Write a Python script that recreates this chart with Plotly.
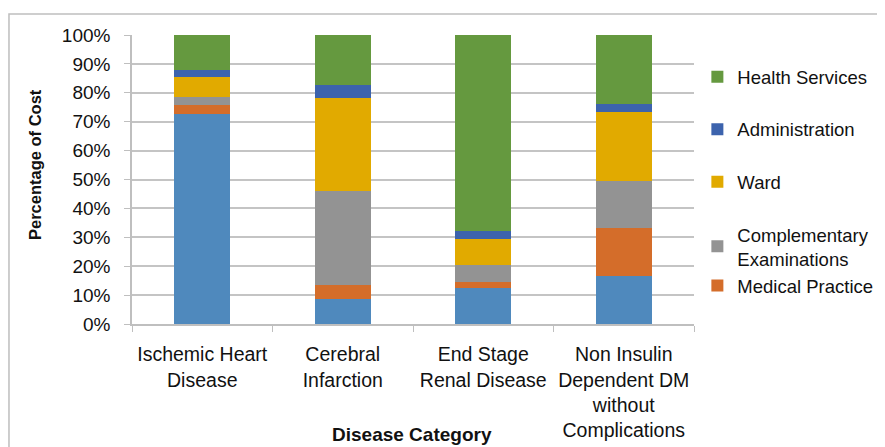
import plotly.graph_objects as go

categories = ["Ischemic Heart<br>Disease", "Cerebral<br>Infarction", "End Stage<br>Renal Disease",
              "Non Insulin<br>Dependent DM<br>without<br>Complications"]

# shares (%) of each cost component, bottom to top
medication = [72.7, 8.5, 12.6, 16.7]
medical_practice = [3.2, 5.1, 1.9, 16.5]
complementary = [2.7, 32.3, 5.8, 16.3]
ward = [6.7, 32.4, 9.2, 23.9]
administration = [2.5, 4.3, 2.6, 2.6]
health_services = [12.2, 17.4, 67.9, 24.0]

series = [
    ("Medication", medication, "#4F89BD", False, "g0", 6),
    ("Medical Practice", medical_practice, "#D46D2A", True, "g1", 5),
    ("Complementary<br>Examinations", complementary, "#939393", True, "g1", 4),
    ("Ward", ward, "#E1AA00", True, "g2", 3),
    ("Administration", administration, "#3C63AD", True, "g3", 2),
    ("Health Services", health_services, "#65993F", True, "g4", 1),
]

fig = go.Figure()
for name, vals, color, show, grp, rank in series:
    fig.add_trace(go.Bar(
        x=categories, y=[v / 100 for v in vals], name=name,
        marker=dict(color=color, line=dict(width=0)),
        showlegend=show, legendgroup=grp, legendrank=rank,
    ))

FONT = "Liberation Sans, Arial, sans-serif"
fig.update_layout(
    barmode="stack",
    bargap=0.6,
    width=877, height=439,
    margin=dict(l=124, r=191, t=27, b=123, autoexpand=False),
    paper_bgcolor="white", plot_bgcolor="white",
    font=dict(family=FONT, size=19, color="#111111"),
    legend=dict(
        x=1.006, xanchor="left", y=0.920, yanchor="top",
        traceorder="grouped", tracegroupgap=25.5,
        font=dict(size=18.5), bgcolor="rgba(0,0,0,0)",
    ),
    yaxis=dict(
        range=[0, 1], tickformat=".0%", dtick=0.1,
        showgrid=True, gridcolor="#C4C4C4", gridwidth=1.5,
        showline=True, linecolor="#BFBFBF", linewidth=1.5,
        ticks="outside", ticklen=6, tickcolor="#BFBFBF",
        tickfont=dict(size=19), zeroline=False, ticklabelstandoff=10,
        automargin=False,
    ),
    xaxis=dict(
        showline=True, linecolor="#BFBFBF", linewidth=1.5,
        ticks="outside", ticklen=6, tickcolor="#BFBFBF", tickson="boundaries",
        tickfont=dict(size=19.5), showgrid=False, ticklabelstandoff=12,
        tickangle=0, automargin=False,
    ),
    annotations=[
        dict(text="<b>Percentage of Cost</b>", xref="paper", yref="paper",
             x=-0.1726, y=0.5536, textangle=-90, showarrow=False,
             font=dict(size=16.5), xanchor="center", yanchor="middle"),
        dict(text="<b>Disease Category</b>", xref="paper", yref="paper",
             x=0.498, y=-0.384, showarrow=False,
             font=dict(size=19), xanchor="center", yanchor="middle"),
    ],
    shapes=[
        dict(type="rect", xref="paper", yref="paper",
             x0=-0.2189, x1=1.5, y0=-0.6, y1=1.0727,
             line=dict(color="#BEBEBE", width=1.5), layer="below"),
    ],
)

fig.write_html("out.html")
